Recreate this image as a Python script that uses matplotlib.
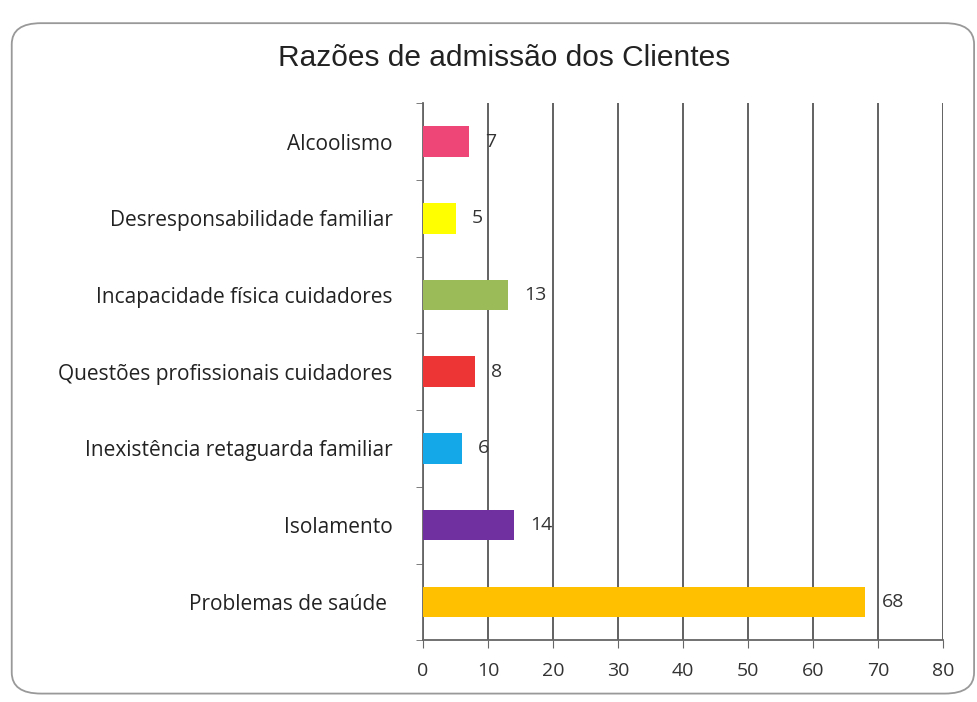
import matplotlib.pyplot as plt
from matplotlib.patches import FancyBboxPatch
import numpy as np

categories = ['Alcoolismo', 'Desresponsabilidade familiar', 'Incapacidade física cuidadores',
              'Questões profissionais cuidadores', 'Inexistência retaguarda familiar',
              'Isolamento', 'Problemas de saúde ']
values = [7, 5, 13, 8, 6, 14, 68]
colors = ['#EE4677', '#FFFF00', '#9BBB59', '#EE3535', '#14A8E8', '#7030A0', '#FFC000']
xticks = [0, 10, 20, 30, 40, 50, 60, 70, 80]

plt.rcParams['font.family'] = ['Open Sans', 'DejaVu Sans']

fig = plt.figure(figsize=(9.78, 7.02), dpi=100)
border = FancyBboxPatch((0.012, 0.012), 0.984, 0.955, boxstyle='round,pad=0,rounding_size=0.03',
                        transform=fig.transFigure, fc='none', ec='#999999', lw=1.3, zorder=-1)
fig.patches.append(border)
ax = fig.add_axes([0.4325, 0.088, 0.532, 0.765])

y = np.arange(len(categories))[::-1]
ax.barh(y, values, height=0.4, color=colors, zorder=3)
for yi, v in zip(y, values):
    ax.text(v + 2.5, yi, str(v), va='center', ha='left', fontsize=14, color='#333333', zorder=4)

ax.set_xlim(0, 80)
ax.set_ylim(-0.5, 6.5)
ax.set_xticks(xticks)
ax.set_yticks(y)
ax.set_yticklabels(categories, fontsize=15, color='#222222')
ax.set_yticks(np.arange(-0.5, 7, 1), minor=True)
ax.tick_params(axis='y', which='major', length=0, pad=22)
ax.tick_params(axis='y', which='minor', length=5, color='#666666')
ax.tick_params(axis='x', length=6, color='#666666', labelsize=14, labelcolor='#333333', pad=10)
ax.grid(axis='x', color='#555555', lw=1.3, zorder=0)
for s in ['top', 'right']:
    ax.spines[s].set_visible(False)
ax.spines['left'].set_color('#666666')
ax.spines['bottom'].set_color('#666666')
ax.spines['left'].set_linewidth(1.3)
ax.spines['bottom'].set_linewidth(1.3)

fig.text(0.515, 0.918, 'Razões de admissão dos Clientes', ha='center', va='center', fontsize=21.5,
         color='#222222', family=['Liberation Sans', 'DejaVu Sans'])

fig.savefig('out.png', dpi=100)
